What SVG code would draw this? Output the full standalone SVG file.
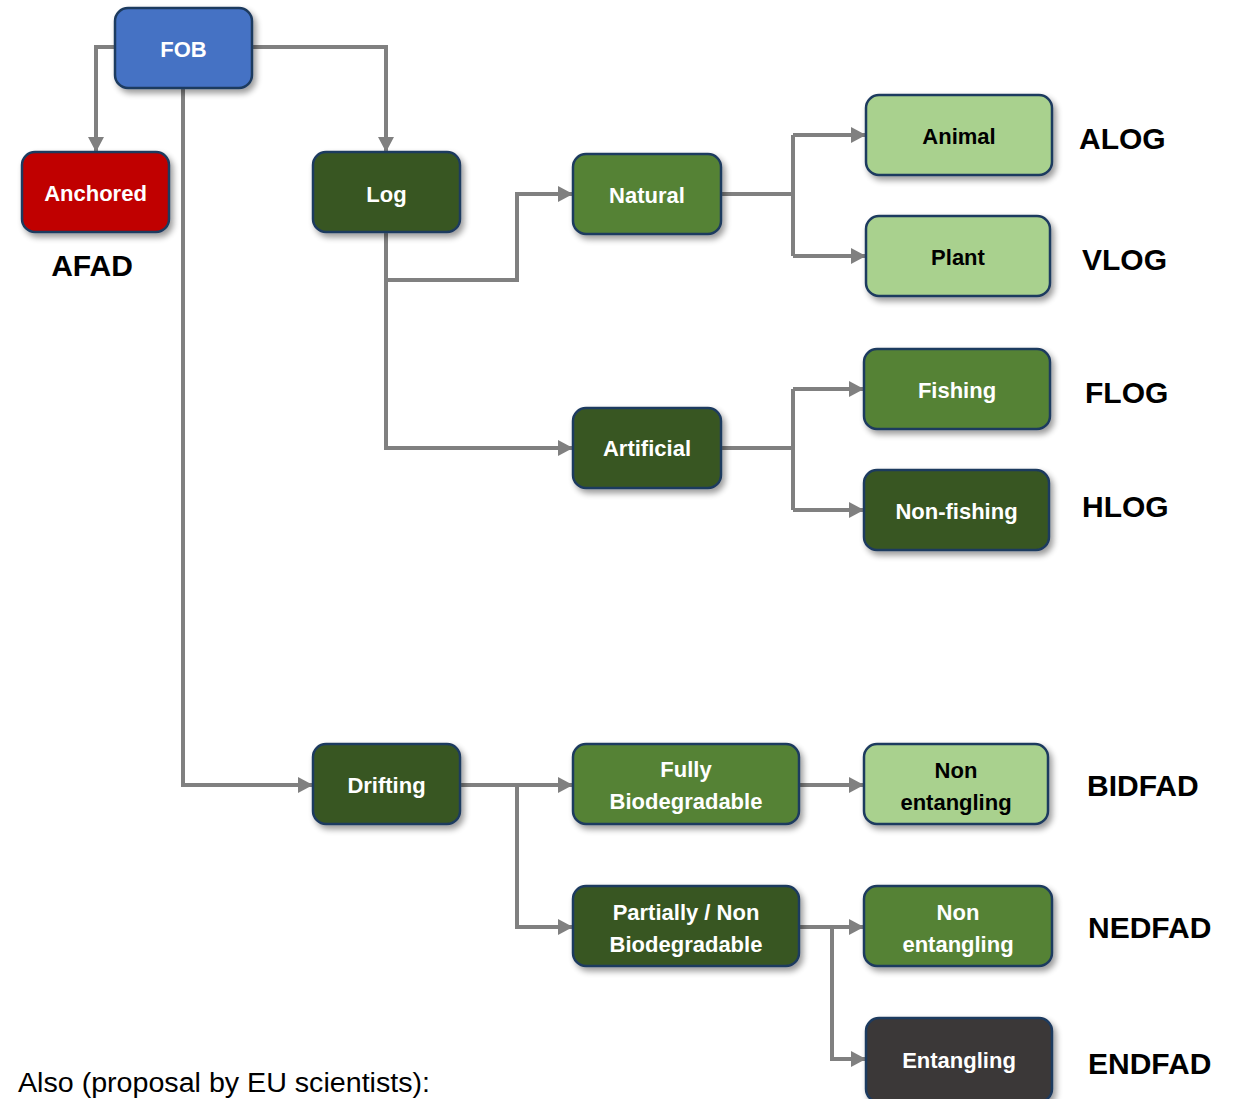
<svg xmlns="http://www.w3.org/2000/svg" width="1242" height="1099" viewBox="0 0 1242 1099">
<style>
.box{stroke:#1F3A5F;stroke-width:2.5}
.blue{fill:#4472C4}.red{fill:#C00000}.dk{fill:#385723}.md{fill:#548235}.lt{fill:#A9D18E}.gr{fill:#3A3838}
.t{font-family:"Liberation Sans",Arial,sans-serif;font-weight:bold;font-size:22px;text-anchor:middle;fill:#FFFFFF}
.tb{fill:#000000}
.lbl{font-family:"Liberation Sans",Arial,sans-serif;font-weight:bold;font-size:30px;fill:#000000}
.c{fill:none;stroke:#808080;stroke-width:4}
</style>
<defs>
<filter id="sh" x="-10%" y="-10%" width="130%" height="140%">
<feGaussianBlur in="SourceAlpha" stdDeviation="3"/>
<feOffset dx="3" dy="4" result="b"/>
<feComponentTransfer><feFuncA type="linear" slope="0.4"/></feComponentTransfer>
<feMerge><feMergeNode/><feMergeNode in="SourceGraphic"/></feMerge>
</filter>
<marker id="ar" markerWidth="15" markerHeight="16" refX="14" refY="8" orient="auto" markerUnits="userSpaceOnUse">
<path d="M0,0 L15,8 L0,16 z" fill="#808080"/>
</marker>
</defs>
<rect width="1242" height="1099" fill="#FFFFFF"/>
<g id="connectors">
<path class="c" d="M115,47 H96 V151" marker-end="url(#ar)"/>
<path class="c" d="M252,47 H386 V151" marker-end="url(#ar)"/>
<path class="c" d="M183,88 V785 H312" marker-end="url(#ar)"/>
<path class="c" d="M386,232 V448 H572" marker-end="url(#ar)"/>
<path class="c" d="M386,280 H517 V194 H572" marker-end="url(#ar)"/>
<path class="c" d="M721,194 H793"/>
<path class="c" d="M793,135 V256"/>
<path class="c" d="M793,135 H865" marker-end="url(#ar)"/>
<path class="c" d="M793,256 H865" marker-end="url(#ar)"/>
<path class="c" d="M721,448 H793"/>
<path class="c" d="M793,389 V510"/>
<path class="c" d="M793,389 H863" marker-end="url(#ar)"/>
<path class="c" d="M793,510 H863" marker-end="url(#ar)"/>
<path class="c" d="M460,785 H572" marker-end="url(#ar)"/>
<path class="c" d="M517,785 V927 H572" marker-end="url(#ar)"/>
<path class="c" d="M799,785 H863" marker-end="url(#ar)"/>
<path class="c" d="M799,927 H863" marker-end="url(#ar)"/>
<path class="c" d="M832,927 V1059 H865" marker-end="url(#ar)"/>
</g>
<g id="fob"><rect class="box blue" x="115" y="8" width="137" height="80" rx="13" filter="url(#sh)"/><text class="t" x="183.5" y="57" font-size="24">FOB</text></g>
<g id="anchored"><rect class="box red" x="22" y="152" width="147" height="80" rx="13" filter="url(#sh)"/><text class="t" x="95.5" y="201">Anchored</text></g>
<g id="afad"><text class="lbl" x="92" y="276" text-anchor="middle">AFAD</text></g>
<g id="log"><rect class="box dk" x="313" y="152" width="147" height="80" rx="13" filter="url(#sh)"/><text class="t" x="386.5" y="202">Log</text></g>
<g id="natural"><rect class="box md" x="573" y="154" width="148" height="80" rx="13" filter="url(#sh)"/><text class="t" x="647" y="203">Natural</text></g>
<g id="animal"><rect class="box lt" x="866" y="95" width="186" height="80" rx="13" filter="url(#sh)"/><text class="t tb" x="959" y="144">Animal</text></g>
<g id="alog"><text class="lbl" x="1079" y="149">ALOG</text></g>
<g id="plant"><rect class="box lt" x="866" y="216" width="184" height="80" rx="13" filter="url(#sh)"/><text class="t tb" x="958" y="265">Plant</text></g>
<g id="vlog"><text class="lbl" x="1082" y="270">VLOG</text></g>
<g id="artificial"><rect class="box dk" x="573" y="408" width="148" height="80" rx="13" filter="url(#sh)"/><text class="t" x="647" y="456">Artificial</text></g>
<g id="fishing"><rect class="box md" x="864" y="349" width="186" height="80" rx="13" filter="url(#sh)"/><text class="t" x="957" y="398">Fishing</text></g>
<g id="flog"><text class="lbl" x="1085" y="403">FLOG</text></g>
<g id="nonfishing"><rect class="box dk" x="864" y="470" width="185" height="80" rx="13" filter="url(#sh)"/><text class="t" x="956.5" y="519">Non-fishing</text></g>
<g id="hlog"><text class="lbl" x="1082" y="517">HLOG</text></g>
<g id="drifting"><rect class="box dk" x="313" y="744" width="147" height="80" rx="13" filter="url(#sh)"/><text class="t" x="386.5" y="793">Drifting</text></g>
<g id="fully"><rect class="box md" x="573" y="744" width="226" height="80" rx="13" filter="url(#sh)"/><text class="t" x="686" y="777">Fully</text><text class="t" x="686" y="809">Biodegradable</text></g>
<g id="nonent1"><rect class="box lt" x="864" y="744" width="184" height="80" rx="13" filter="url(#sh)"/><text class="t tb" x="956" y="778">Non</text><text class="t tb" x="956" y="810">entangling</text></g>
<g id="bidfad"><text class="lbl" x="1087" y="796">BIDFAD</text></g>
<g id="partially"><rect class="box dk" x="573" y="886" width="226" height="80" rx="13" filter="url(#sh)"/><text class="t" x="686" y="920">Partially / Non</text><text class="t" x="686" y="952">Biodegradable</text></g>
<g id="nonent2"><rect class="box md" x="864" y="886" width="188" height="80" rx="13" filter="url(#sh)"/><text class="t" x="958" y="920">Non</text><text class="t" x="958" y="952">entangling</text></g>
<g id="nedfad"><text class="lbl" x="1088" y="938">NEDFAD</text></g>
<g id="entangling"><rect class="box gr" x="866" y="1018" width="186" height="84" rx="13" filter="url(#sh)"/><text class="t" x="959" y="1068">Entangling</text></g>
<g id="endfad"><text class="lbl" x="1088" y="1074">ENDFAD</text></g>
<g id="note"><text x="18" y="1092" font-family="'Liberation Sans',Arial,sans-serif" font-size="27" fill="#000000" textLength="412" lengthAdjust="spacingAndGlyphs">Also (proposal by EU scientists):</text></g>
</svg>
